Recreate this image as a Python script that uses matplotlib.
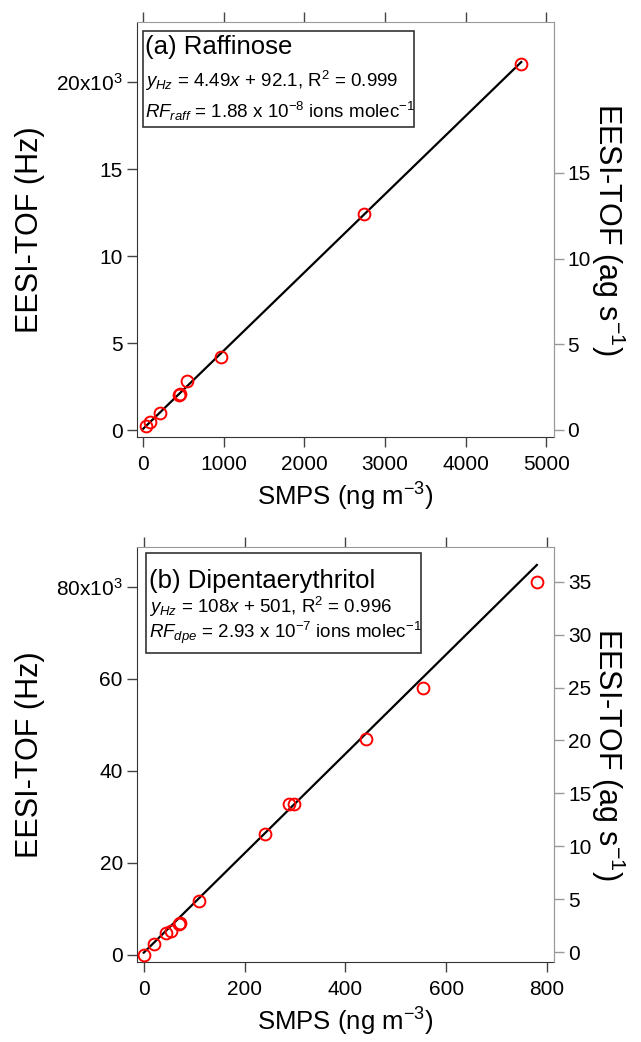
import matplotlib
matplotlib.use('Agg')
import numpy as np
import matplotlib.pyplot as plt
from matplotlib.patches import Rectangle

plt.rcParams['font.family'] = 'Liberation Sans'
plt.rcParams['mathtext.fontset'] = 'custom'
plt.rcParams['mathtext.rm'] = 'Liberation Sans'
plt.rcParams['mathtext.it'] = 'Liberation Sans:italic'
plt.rcParams['mathtext.bf'] = 'Liberation Sans:bold'

# (a) Raffinose
raff_smps = [35, 90, 205, 445, 455, 545, 965, 2740, 4690]
raff_hz = [230, 500, 1000, 2030, 2110, 2830, 4210, 12400, 21030]
raff_slope, raff_icpt = 4.49, 92.1
raff_fit_x = [0, 4690]
raff_xticks = [0, 1000, 2000, 3000, 4000, 5000]
raff_yticks = [0, 5000, 10000, 15000, 20000]
raff_ylabels = ['0', '5', '10', '15', r'20x10$^{3}$']
raff_rticks = [0, 5, 10, 15]
raff_text = ['(a) Raffinose',
             r'$y_{Hz}$ = 4.49$x$ + 92.1, R$^{2}$ = 0.999',
             r'$RF_{raff}$ = 1.88 x 10$^{-8}$ ions molec$^{-1}$']

# (b) Dipentaerythritol
dpe_smps = [1, 20, 44, 54, 70, 72, 110, 240, 288, 298, 440, 555, 781]
dpe_hz = [0, 2400, 4700, 5200, 6700, 6900, 11700, 26300, 32700, 32700, 47000, 58000, 81100]
dpe_slope, dpe_icpt = 108, 501
dpe_fit_x = [0, 780]
dpe_xticks = [0, 200, 400, 600, 800]
dpe_yticks = [0, 20000, 40000, 60000, 80000]
dpe_ylabels = ['0', '20', '40', '60', r'80x10$^{3}$']
dpe_rticks = [0, 5, 10, 15, 20, 25, 30, 35]
dpe_text = ['(b) Dipentaerythritol',
            r'$y_{Hz}$ = 108$x$ + 501, R$^{2}$ = 0.996',
            r'$RF_{dpe}$ = 2.93 x 10$^{-7}$ ions molec$^{-1}$']


def draw_panel(rect, x, y, slope, icpt, fit_x, xlim, ylim, rlim,
               xticks, yticks, ylabels, rticks, lines, box, text_y):
    ax = fig.add_axes(rect)
    fx = np.array(fit_x)
    ax.plot(fx, slope * fx + icpt, color='black', lw=1.6, zorder=2)
    ax.plot(x, y, 'o', mfc='none', mec='red', ms=8.5, mew=1.4, zorder=3)
    ax.set_xlim(xlim)
    ax.set_ylim(ylim)
    ax.set_xticks(xticks)
    ax.set_yticks(yticks)
    ax.set_yticklabels(ylabels)
    ax.tick_params(axis='both', direction='out', length=7, width=1,
                   labelsize=15, colors='#444', labelcolor='black')
    ax.tick_params(axis='x', top=True, pad=6)
    ax.tick_params(axis='y', pad=3)
    ax.spines['left'].set_color('#333')
    ax.spines['bottom'].set_color('#333')
    ax.spines['top'].set_color('#999')
    ax.spines['right'].set_color('#999')
    ax.set_xlabel(r'SMPS (ng m$^{-3}$)', fontsize=18.5, va='center')
    ax.xaxis.set_label_coords(0.5, -0.144)
    ax.set_ylabel('EESI-TOF (Hz)', fontsize=22, va='center')
    ax.yaxis.set_label_coords(-0.255, 0.5)

    # right axis in ag/s
    ax2 = ax.twinx()
    ax2.set_ylim(rlim)
    ax2.set_yticks(rticks)
    ax2.tick_params(axis='y', direction='out', length=7, width=1,
                    labelsize=15, colors='#999', labelcolor='black', pad=3)
    for s in ['left', 'top', 'bottom']:
        ax2.spines[s].set_visible(False)
    ax2.spines['right'].set_color('#999')
    ax2.set_ylabel(r'EESI-TOF (ag s$^{-1}$)', fontsize=22, rotation=270, va='center')
    ax2.yaxis.set_label_coords(1.13, 0.5)

    # annotation box
    bx0, by0, bx1, by1 = box
    ax.add_patch(Rectangle((bx0, by0), bx1 - bx0, by1 - by0, transform=ax.transAxes,
                           fill=False, ec='#333', lw=1.2, zorder=4))
    sizes = [18.5, 13.5, 13.5]
    for line, ty, fs in zip(lines, text_y, sizes):
        ax.text(bx0 + 0.006, ty, line, transform=ax.transAxes, fontsize=fs,
                va='baseline', ha='left', zorder=5)
    return ax


fig = plt.figure(figsize=(6.41, 10.42), dpi=100)

draw_panel([0.2133, 0.5803, 0.6502, 0.3986], raff_smps, raff_hz, raff_slope, raff_icpt,
           raff_fit_x, (-80, 5090), (-400, 23450), (-0.43, 23.8),
           raff_xticks, raff_yticks, raff_ylabels, raff_rticks, raff_text,
           (0.0144, 0.7465, 0.665, 0.979), [0.923, 0.843, 0.769])

draw_panel([0.2133, 0.0771, 0.6510, 0.3982], dpe_smps, dpe_hz, dpe_slope, dpe_icpt,
           dpe_fit_x, (-14, 814), (-1450, 88700), (-0.9, 38.3),
           dpe_xticks, dpe_yticks, dpe_ylabels, dpe_rticks, dpe_text,
           (0.0223, 0.743, 0.6806, 0.984), [0.9, 0.8395, 0.779])

fig.savefig('out.png', dpi=100)
